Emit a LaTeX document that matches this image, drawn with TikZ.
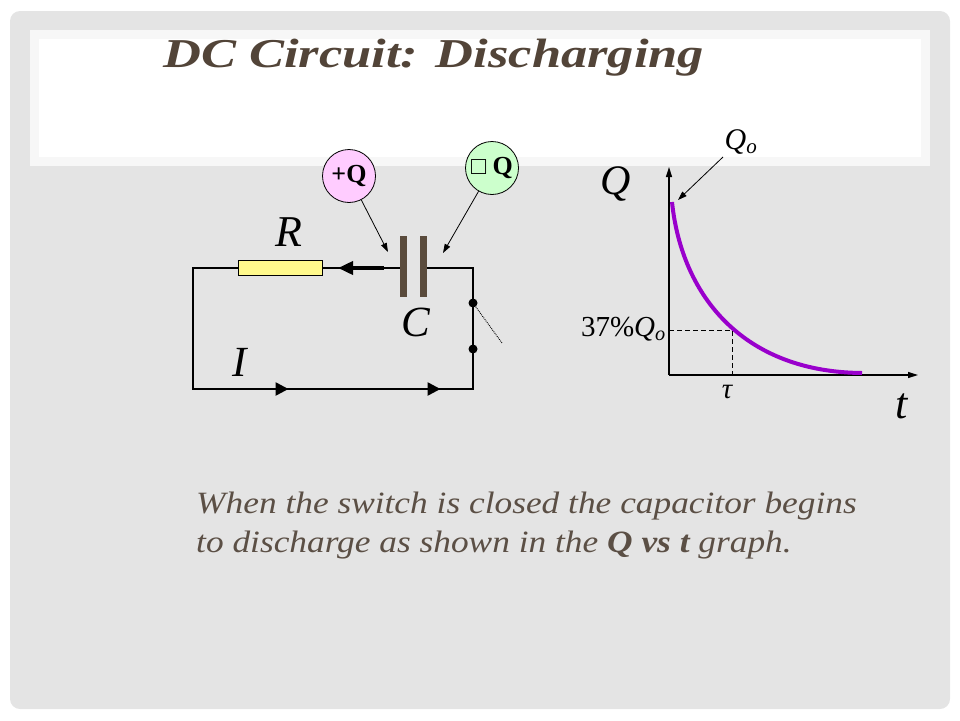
\documentclass[tikz,border=0pt]{standalone}
\usepackage{fontspec}
\setmainfont{Liberation Serif}
\newfontfamily\titlefont[FakeStretch=1.28]{Liberation Serif}
\newfontfamily\bodyfont[FakeStretch=1.14]{Liberation Serif}
\newfontfamily\boxfont{DejaVu Serif}
\usepackage{tikz}
\usetikzlibrary{arrows.meta,decorations.markings}
\definecolor{slidegray}{HTML}{E4E4E4}
\definecolor{bandgray}{HTML}{F7F7F7}
\definecolor{titlebrown}{HTML}{524438}
\definecolor{bodybrown}{HTML}{5B4F45}
\definecolor{platebrown}{HTML}{5A4B3C}
\definecolor{curvepurple}{HTML}{9900CC}
\definecolor{chargepink}{HTML}{FFCCFF}
\definecolor{chargegreen}{HTML}{CCFFCC}
\tikzset{
  wire/.style={line width=2.6pt},
  pointer/.style={line width=0.8pt, -{Triangle[length=9pt,width=6pt]}},
  axis/.style={line width=1.4pt, -{Triangle[length=10pt,width=6pt]}},
  charge/.style={circle, draw, line width=0.8pt, minimum size=53pt, inner sep=0pt, font=\fontsize{26}{26}\selectfont\bfseries},
  plate/.style={rectangle, fill=platebrown, minimum width=7pt, minimum height=61pt, inner sep=0pt},
  label/.style={inner sep=0pt, font=\fontsize{43}{43}\selectfont\itshape}
}

\begin{document}
\begin{tikzpicture}[x=1pt,y=-1pt]
  \useasboundingbox (0,0) rectangle (960,720);
  \fill[slidegray, rounded corners=10pt] (10,11) rectangle (950,709);
  \fill[bandgray] (30,30) rectangle (930,166);
  \fill[white] (39,39) rectangle (921,157);
  \node (title) [anchor=base west, inner sep=0pt, text=titlebrown, font=\titlefont\fontsize{41}{41}\selectfont\bfseries\itshape] at (163,67) {DC Circuit: Discharging};

  \coordinate (tl) at (193,268);
  \coordinate (tr) at (473,268);
  \coordinate (br) at (473,389);
  \coordinate (bl) at (193,389);
  \node (res) [rectangle, draw, line width=1pt, fill=yellow!45, minimum width=84pt, minimum height=15pt, inner sep=0pt] at (280,268) {};
  \node (plateL) [plate] at (403.5,266) {};
  \node (plateR) [plate] at (423.5,266) {};
  \node (sw1) [circle, fill, inner sep=0pt, minimum size=9pt] at (473,303) {};
  \node (sw2) [circle, fill, inner sep=0pt, minimum size=9pt] at (473,349) {};
  \coordinate (swopen) at (502,343);
  \draw[wire, postaction={decorate}, decoration={markings,
      mark=at position 261pt with {\arrow{Triangle[length=13pt,width=13pt]}},
      mark=at position 413pt with {\arrow{Triangle[length=13pt,width=13pt]}}}]
    (res.west) -- (tl) -- (bl) -- (br) -- (tr) -- (plateR.east |- tr);
  \draw[wire] (plateL.west |- tl) -- (res.east);
  \coordinate (iarrow) at (384,268);
  \coordinate (itip) at (338,268);
  \draw[line width=3.6pt, -{Triangle[length=15pt,width=13pt]}] (iarrow) -- (itip);
  \draw[densely dotted, line width=0.9pt] (sw1) -- (swopen);

  \node (plusq) [charge, fill=chargepink] at (349,176) {+Q};
  \node (minusq) [charge, fill=chargegreen] at (492,168) {{\boxfont\normalfont\fontsize{25}{25}\selectfont □}\ Q};
  \coordinate (plustip) at (388,252);
  \coordinate (minustip) at (443,253);
  \draw[pointer] (plusq) -- (plustip);
  \draw[pointer] (minusq) -- (minustip);

  \node (rlabel) [label, font=\fontsize{44}{44}\selectfont\itshape] at (289,232) {R};
  \node (clabel) [label] at (416,322) {C};
  \node (ilabel) [label] at (240,362) {I};

  \coordinate (origin) at (669,375);
  \coordinate (qtop) at (669,167);
  \coordinate (tend) at (918,375);
  \draw[axis] (origin) -- (qtop);
  \draw[axis] (origin) -- (tend);
  \coordinate (qstart) at (672,202);
  \coordinate (qend) at (862,373);
  \draw[curvepurple, line width=4pt] (qstart) .. controls (682,298) and (745,372) .. (qend);
  \coordinate (tau) at (732,330);
  \draw[dashed, line width=0.9pt, dash pattern=on 5pt off 3pt] (origin |- tau) -- (tau) -- (tau |- origin);

  \node (qaxis) [label, font=\fontsize{42}{42}\selectfont\itshape] at (616,184) {Q};
  \node (taxis) [label, font=\fontsize{44}{44}\selectfont\itshape] at (902,406) {t};
  \node (taulabel) [label, font=\fontsize{29}{29}\selectfont\itshape] at (727,392) {τ};
  \node (qolabel) [font=\fontsize{30}{30}\selectfont] at (741,142) {\textit{Q}\textsubscript{\textit{o}}};
  \node (pctlabel) [anchor=east, inner sep=1pt, font=\fontsize{29}{29}\selectfont] at (667,329) {37\%\textit{Q}\textsubscript{\textit{o}}};
  \coordinate (qostart) at (723,157);
  \coordinate (qotip) at (678,200);
  \draw[pointer] (qostart) -- (qotip);

  \node (caption) [anchor=base west, inner sep=0pt, align=left, text=bodybrown, font=\bodyfont\fontsize{31}{39}\selectfont\itshape] at (196,552)
    {When the switch is closed the capacitor begins\\to discharge as shown in the \textbf{Q vs t} graph.};
\end{tikzpicture}
\end{document}
